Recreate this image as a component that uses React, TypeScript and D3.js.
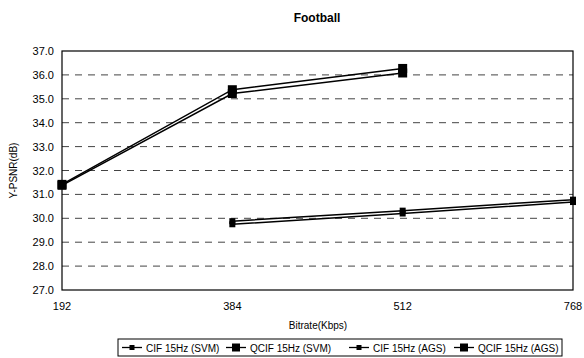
import React from "react";
import * as d3 from "d3";

const categories = ["192", "384", "512", "768"];
const yTicks = [27, 28, 29, 30, 31, 32, 33, 34, 35, 36, 37];
const cifSvm: (number | null)[] = [null, 29.75, 30.2, 30.68];
const qcifSvm: (number | null)[] = [31.38, 35.22, 36.08, null];
const cifAgs: (number | null)[] = [null, 29.88, 30.32, 30.78];
const qcifAgs: (number | null)[] = [31.42, 35.38, 36.27, null];

const seriesNames = ["CIF 15Hz (SVM)", "QCIF 15Hz (SVM)", "CIF 15Hz (AGS)", "QCIF 15Hz (AGS)"];
const seriesValues = [cifSvm, qcifSvm, cifAgs, qcifAgs];
const markerSizes = [6, 9, 6, 9];

const W = 584, H = 358;
const M = { left: 62, right: 11, top: 51, bottom: 68 };
const font = "'Liberation Sans', Arial, sans-serif";

export default function App() {
  const x = d3.scalePoint<string>().domain(categories).range([M.left, W - M.right]);
  const y = d3.scaleLinear().domain([27, 37]).range([H - M.bottom, M.top]);
  const line = d3
    .line<{ c: string; v: number | null }>()
    .defined((d) => d.v != null)
    .x((d) => x(d.c)!)
    .y((d) => y(d.v as number));

  const legendX = [122, 226, 349, 454];

  return (
    <svg width={W} height={H} style={{ position: "absolute", left: 0, top: 0, background: "#fff" }}>
      <text x={317} y={22} textAnchor="middle" fontFamily={font} fontWeight="bold" fontSize={12}>
        Football
      </text>
      {yTicks.slice(1, -1).map((t) => (
        <line
          key={"g" + t}
          x1={M.left}
          x2={W - M.right}
          y1={y(t)}
          y2={y(t)}
          stroke="#444"
          strokeWidth={1}
          strokeDasharray="7,6"
        />
      ))}
      <rect
        x={M.left}
        y={M.top}
        width={W - M.right - M.left}
        height={H - M.bottom - M.top}
        fill="none"
        stroke="#000"
        strokeWidth={1.2}
      />
      {yTicks.map((t) => (
        <text key={"y" + t} x={M.left - 8} y={y(t) + 4} textAnchor="end" fontFamily={font} fontSize={11}>
          {t.toFixed(1)}
        </text>
      ))}
      {categories.map((c) => (
        <text key={"x" + c} x={x(c)} y={H - M.bottom + 20} textAnchor="middle" fontFamily={font} fontSize={11}>
          {c}
        </text>
      ))}
      <text x={318} y={329} textAnchor="middle" fontFamily={font} fontSize={10}>
        Bitrate(Kbps)
      </text>
      <text
        transform={`translate(17,${(M.top + H - M.bottom) / 2}) rotate(-90)`}
        textAnchor="middle"
        fontFamily={font}
        fontSize={10}
      >
        Y-PSNR(dB)
      </text>
      {seriesValues.map((vals, i) => {
        const pts = categories.map((c, j) => ({ c, v: vals[j] }));
        const s = markerSizes[i];
        return (
          <g key={"s" + i}>
            <path d={line(pts) || ""} fill="none" stroke="#000" strokeWidth={1.5} />
            {pts
              .filter((p) => p.v != null)
              .map((p) => (
                <rect
                  key={p.c}
                  x={x(p.c)! - s / 2}
                  y={y(p.v as number) - s / 2}
                  width={s}
                  height={s}
                  fill="#000"
                />
              ))}
          </g>
        );
      })}
      <rect x={118} y={339} width={444} height={17} fill="#fff" stroke="#000" strokeWidth={1} />
      {seriesNames.map((n, i) => {
        const lx = legendX[i];
        const s = markerSizes[i] - 1;
        return (
          <g key={"l" + i}>
            <line x1={lx} x2={lx + 20} y1={347.5} y2={347.5} stroke="#000" strokeWidth={1.3} />
            <rect x={lx + 10 - s / 2} y={347.5 - s / 2} width={s} height={s} fill="#000" />
            <text x={lx + 24} y={351.5} fontFamily={font} fontSize={10}>
              {n}
            </text>
          </g>
        );
      })}
    </svg>
  );
}
